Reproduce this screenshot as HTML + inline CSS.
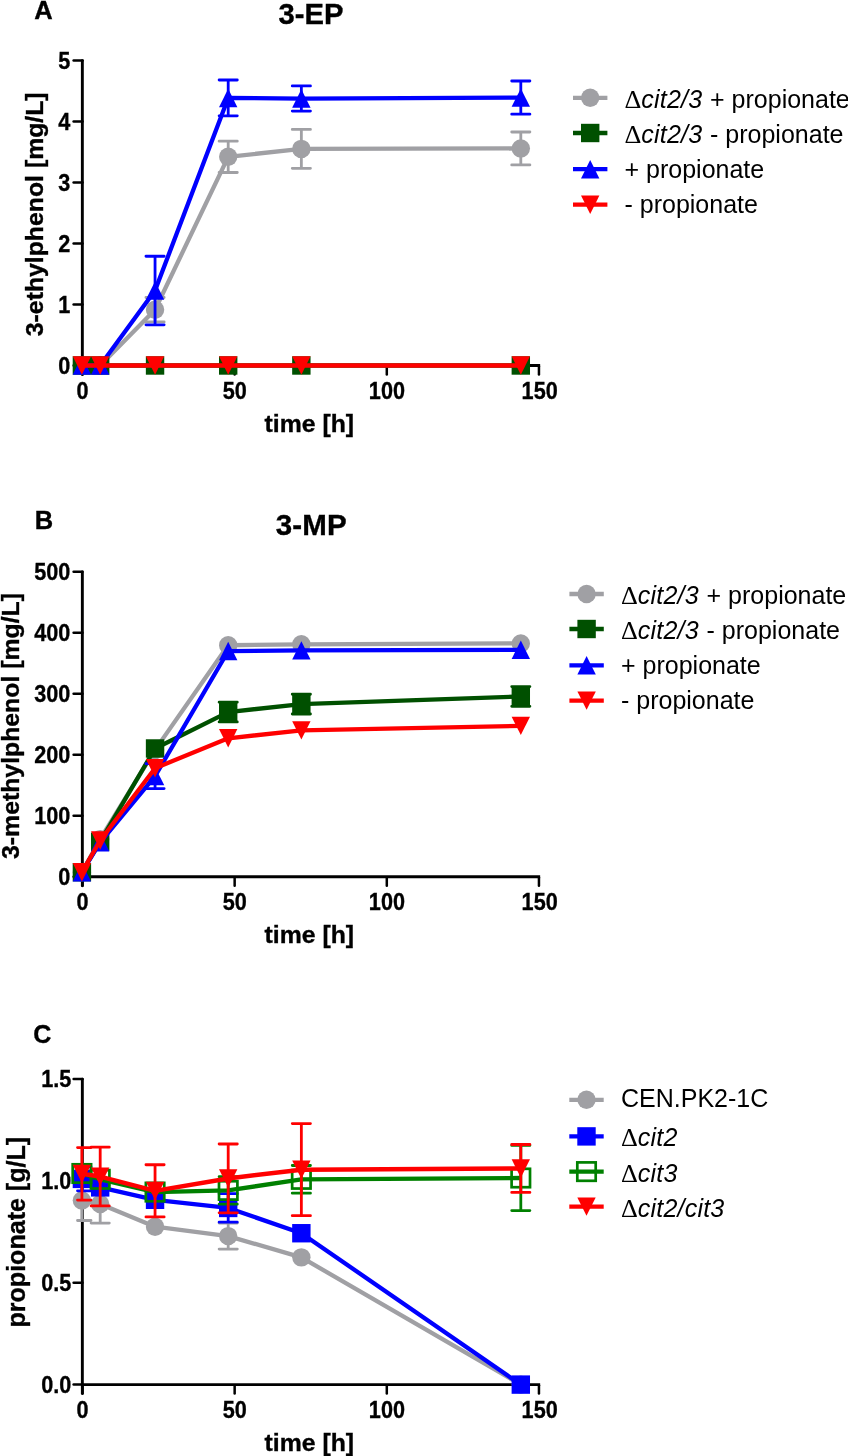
<!DOCTYPE html>
<html lang="en"><head><meta charset="utf-8"><title>Figure</title>
<style>html,body{margin:0;padding:0;background:#fff}svg{display:block;will-change:transform}</style></head><body>
<svg width="848" height="1456" viewBox="0 0 848 1456">
<rect width="848" height="1456" fill="#fff"/>
<g id="panelA">
<text x="34.3" y="18.7" font-family="Liberation Sans, Arial, sans-serif" font-weight="bold" stroke="#000" stroke-width="0.35" font-size="25.5">A</text>
<text x="311" y="24.3" text-anchor="middle" font-family="Liberation Sans, Arial, sans-serif" font-weight="bold" stroke="#000" stroke-width="0.35" font-size="29.2">3-EP</text>
<path d="M82.35,60.60V374.50" stroke="#000" stroke-width="2.9" stroke-linecap="round" fill="none"/>
<path d="M73.6,365.50H82.5" stroke="#000" stroke-width="2.5" stroke-linecap="round"/>
<text transform="translate(70.4,373.70) scale(0.89,1)" text-anchor="end" font-family="Liberation Sans, Arial, sans-serif" font-weight="bold" stroke="#000" stroke-width="0.35" font-size="24.3">0</text>
<path d="M73.6,304.48H82.5" stroke="#000" stroke-width="2.5" stroke-linecap="round"/>
<text transform="translate(70.4,312.68) scale(0.89,1)" text-anchor="end" font-family="Liberation Sans, Arial, sans-serif" font-weight="bold" stroke="#000" stroke-width="0.35" font-size="24.3">1</text>
<path d="M73.6,243.46H82.5" stroke="#000" stroke-width="2.5" stroke-linecap="round"/>
<text transform="translate(70.4,251.66) scale(0.89,1)" text-anchor="end" font-family="Liberation Sans, Arial, sans-serif" font-weight="bold" stroke="#000" stroke-width="0.35" font-size="24.3">2</text>
<path d="M73.6,182.44H82.5" stroke="#000" stroke-width="2.5" stroke-linecap="round"/>
<text transform="translate(70.4,190.64) scale(0.89,1)" text-anchor="end" font-family="Liberation Sans, Arial, sans-serif" font-weight="bold" stroke="#000" stroke-width="0.35" font-size="24.3">3</text>
<path d="M73.6,121.42H82.5" stroke="#000" stroke-width="2.5" stroke-linecap="round"/>
<text transform="translate(70.4,129.62) scale(0.89,1)" text-anchor="end" font-family="Liberation Sans, Arial, sans-serif" font-weight="bold" stroke="#000" stroke-width="0.35" font-size="24.3">4</text>
<path d="M73.6,60.40H82.5" stroke="#000" stroke-width="2.5" stroke-linecap="round"/>
<text transform="translate(70.4,68.60) scale(0.89,1)" text-anchor="end" font-family="Liberation Sans, Arial, sans-serif" font-weight="bold" stroke="#000" stroke-width="0.35" font-size="24.3">5</text>
<path d="M81.3,365.50H540.15" stroke="#000" stroke-width="2.9" fill="none"/>
<path d="M82.50,366.10v8.4" stroke="#000" stroke-width="2.5" stroke-linecap="round"/>
<text transform="translate(82.60,399.00) scale(0.89,1)" text-anchor="middle" font-family="Liberation Sans, Arial, sans-serif" font-weight="bold" stroke="#000" stroke-width="0.35" font-size="24.3">0</text>
<path d="M234.65,366.10v8.4" stroke="#000" stroke-width="2.5" stroke-linecap="round"/>
<text transform="translate(234.75,399.00) scale(0.89,1)" text-anchor="middle" font-family="Liberation Sans, Arial, sans-serif" font-weight="bold" stroke="#000" stroke-width="0.35" font-size="24.3">50</text>
<path d="M386.80,366.10v8.4" stroke="#000" stroke-width="2.5" stroke-linecap="round"/>
<text transform="translate(386.90,399.00) scale(0.89,1)" text-anchor="middle" font-family="Liberation Sans, Arial, sans-serif" font-weight="bold" stroke="#000" stroke-width="0.35" font-size="24.3">100</text>
<path d="M538.95,366.10v8.4" stroke="#000" stroke-width="2.5" stroke-linecap="round"/>
<text transform="translate(539.65,399.00) scale(0.89,1)" text-anchor="middle" font-family="Liberation Sans, Arial, sans-serif" font-weight="bold" stroke="#000" stroke-width="0.35" font-size="24.3">150</text>
<text x="309.3" y="431.50" text-anchor="middle" font-family="Liberation Sans, Arial, sans-serif" font-weight="bold" stroke="#000" stroke-width="0.35" font-size="24.8">time [h]</text>
<text transform="translate(43.3,214.3) rotate(-90)" text-anchor="middle" font-family="Liberation Sans, Arial, sans-serif" font-weight="bold" stroke="#000" stroke-width="0.35" font-size="24.8">3-ethylphenol [mg/L]</text>
<polyline points="81.90,365.50 100.19,365.50 155.05,309.73 228.20,156.81 301.36,148.88 520.81,148.45" fill="none" stroke="#A0A0A4" stroke-width="4.3" stroke-linejoin="round"/>
<path d="M155.05,297.52V321.93M145.95,297.52H164.15M145.95,321.93H164.15" stroke="#A0A0A4" stroke-width="2.8" stroke-linecap="round" fill="none"/>
<path d="M228.20,141.13V172.49M219.10,141.13H237.30M219.10,172.49H237.30" stroke="#A0A0A4" stroke-width="2.8" stroke-linecap="round" fill="none"/>
<path d="M301.36,129.41V168.34M292.26,129.41H310.46M292.26,168.34H310.46" stroke="#A0A0A4" stroke-width="2.8" stroke-linecap="round" fill="none"/>
<path d="M520.81,131.98V164.93M511.71,131.98H529.91M511.71,164.93H529.91" stroke="#A0A0A4" stroke-width="2.8" stroke-linecap="round" fill="none"/>
<circle cx="81.90" cy="365.50" r="9.2" fill="#A0A0A4"/>
<circle cx="100.19" cy="365.50" r="9.2" fill="#A0A0A4"/>
<circle cx="155.05" cy="309.73" r="9.2" fill="#A0A0A4"/>
<circle cx="228.20" cy="156.81" r="9.2" fill="#A0A0A4"/>
<circle cx="301.36" cy="148.88" r="9.2" fill="#A0A0A4"/>
<circle cx="520.81" cy="148.45" r="9.2" fill="#A0A0A4"/>
<polyline points="81.90,365.50 100.19,365.50 155.05,365.50 228.20,365.50 301.36,365.50 520.81,365.50" fill="none" stroke="#005000" stroke-width="4.3" stroke-linejoin="round"/>
<rect x="72.70" y="356.30" width="18.4" height="18.4" fill="#005000"/>
<rect x="90.99" y="356.30" width="18.4" height="18.4" fill="#005000"/>
<rect x="145.85" y="356.30" width="18.4" height="18.4" fill="#005000"/>
<rect x="219.00" y="356.30" width="18.4" height="18.4" fill="#005000"/>
<rect x="292.16" y="356.30" width="18.4" height="18.4" fill="#005000"/>
<rect x="511.61" y="356.30" width="18.4" height="18.4" fill="#005000"/>
<polyline points="81.90,365.50 100.19,365.50 155.05,290.57 228.20,97.93 301.36,98.54 520.81,97.62" fill="none" stroke="#0000FF" stroke-width="4.3" stroke-linejoin="round"/>
<path d="M155.05,256.27V324.86M145.95,256.27H164.15M145.95,324.86H164.15" stroke="#0000FF" stroke-width="2.8" stroke-linecap="round" fill="none"/>
<path d="M228.20,79.99V115.87M219.10,79.99H237.30M219.10,115.87H237.30" stroke="#0000FF" stroke-width="2.8" stroke-linecap="round" fill="none"/>
<path d="M301.36,85.97V111.11M292.26,85.97H310.46M292.26,111.11H310.46" stroke="#0000FF" stroke-width="2.8" stroke-linecap="round" fill="none"/>
<path d="M520.81,81.02V114.22M511.71,81.02H529.91M511.71,114.22H529.91" stroke="#0000FF" stroke-width="2.8" stroke-linecap="round" fill="none"/>
<polygon points="81.90,356.30 91.10,374.70 72.70,374.70" fill="#0000FF"/>
<polygon points="100.19,356.30 109.39,374.70 90.99,374.70" fill="#0000FF"/>
<polygon points="155.05,281.37 164.25,299.77 145.85,299.77" fill="#0000FF"/>
<polygon points="228.20,88.73 237.40,107.13 219.00,107.13" fill="#0000FF"/>
<polygon points="301.36,89.34 310.56,107.74 292.16,107.74" fill="#0000FF"/>
<polygon points="520.81,88.42 530.01,106.82 511.61,106.82" fill="#0000FF"/>
<polyline points="81.90,365.50 100.19,365.50 155.05,365.50 228.20,365.50 301.36,365.50 520.81,365.50" fill="none" stroke="#FF0000" stroke-width="4.3" stroke-linejoin="round"/>
<polygon points="72.70,356.30 91.10,356.30 81.90,374.70" fill="#FF0000"/>
<polygon points="90.99,356.30 109.39,356.30 100.19,374.70" fill="#FF0000"/>
<polygon points="145.85,356.30 164.25,356.30 155.05,374.70" fill="#FF0000"/>
<polygon points="219.00,356.30 237.40,356.30 228.20,374.70" fill="#FF0000"/>
<polygon points="292.16,356.30 310.56,356.30 301.36,374.70" fill="#FF0000"/>
<polygon points="511.61,356.30 530.01,356.30 520.81,374.70" fill="#FF0000"/>
<path d="M573.00,97.80h34.4" stroke="#A0A0A4" stroke-width="4.3"/>
<circle cx="590.20" cy="97.80" r="9.2" fill="#A0A0A4"/>
<text x="624.50" y="107.60" font-family="Liberation Sans, Arial, sans-serif" font-size="25"><tspan font-family="Liberation Serif, serif" font-size="26.2">Δ</tspan><tspan font-style="italic" letter-spacing="0.2">cit2/3</tspan><tspan dx="0.8"> + propionate</tspan></text>
<path d="M573.00,133.00h34.4" stroke="#005000" stroke-width="4.3"/>
<rect x="581.00" y="123.80" width="18.4" height="18.4" fill="#005000"/>
<text x="624.50" y="142.80" font-family="Liberation Sans, Arial, sans-serif" font-size="25"><tspan font-family="Liberation Serif, serif" font-size="26.2">Δ</tspan><tspan font-style="italic" letter-spacing="0.2">cit2/3</tspan><tspan dx="0.8"> - propionate</tspan></text>
<path d="M573.00,169.20h34.4" stroke="#0000FF" stroke-width="4.3"/>
<polygon points="590.20,160.00 599.40,178.40 581.00,178.40" fill="#0000FF"/>
<text x="624.50" y="178.20" font-family="Liberation Sans, Arial, sans-serif" font-size="25">+ propionate</text>
<path d="M573.00,204.70h34.4" stroke="#FF0000" stroke-width="4.3"/>
<polygon points="581.00,195.50 599.40,195.50 590.20,213.90" fill="#FF0000"/>
<text x="624.50" y="213.40" font-family="Liberation Sans, Arial, sans-serif" font-size="25">- propionate</text>
</g>
<g id="panelB">
<text x="34.7" y="529.4" font-family="Liberation Sans, Arial, sans-serif" font-weight="bold" stroke="#000" stroke-width="0.35" font-size="25.5">B</text>
<text x="311.3" y="535.2" text-anchor="middle" font-family="Liberation Sans, Arial, sans-serif" font-weight="bold" stroke="#000" stroke-width="0.35" font-size="29.5" letter-spacing="0.15">3-MP</text>
<path d="M82.35,571.90V885.80" stroke="#000" stroke-width="2.9" stroke-linecap="round" fill="none"/>
<path d="M73.6,876.80H82.5" stroke="#000" stroke-width="2.5" stroke-linecap="round"/>
<text transform="translate(70.4,885.00) scale(0.89,1)" text-anchor="end" font-family="Liberation Sans, Arial, sans-serif" font-weight="bold" stroke="#000" stroke-width="0.35" font-size="24.3">0</text>
<path d="M73.6,815.78H82.5" stroke="#000" stroke-width="2.5" stroke-linecap="round"/>
<text transform="translate(70.4,823.98) scale(0.89,1)" text-anchor="end" font-family="Liberation Sans, Arial, sans-serif" font-weight="bold" stroke="#000" stroke-width="0.35" font-size="24.3">100</text>
<path d="M73.6,754.76H82.5" stroke="#000" stroke-width="2.5" stroke-linecap="round"/>
<text transform="translate(70.4,762.96) scale(0.89,1)" text-anchor="end" font-family="Liberation Sans, Arial, sans-serif" font-weight="bold" stroke="#000" stroke-width="0.35" font-size="24.3">200</text>
<path d="M73.6,693.74H82.5" stroke="#000" stroke-width="2.5" stroke-linecap="round"/>
<text transform="translate(70.4,701.94) scale(0.89,1)" text-anchor="end" font-family="Liberation Sans, Arial, sans-serif" font-weight="bold" stroke="#000" stroke-width="0.35" font-size="24.3">300</text>
<path d="M73.6,632.72H82.5" stroke="#000" stroke-width="2.5" stroke-linecap="round"/>
<text transform="translate(70.4,640.92) scale(0.89,1)" text-anchor="end" font-family="Liberation Sans, Arial, sans-serif" font-weight="bold" stroke="#000" stroke-width="0.35" font-size="24.3">400</text>
<path d="M73.6,571.70H82.5" stroke="#000" stroke-width="2.5" stroke-linecap="round"/>
<text transform="translate(70.4,579.90) scale(0.89,1)" text-anchor="end" font-family="Liberation Sans, Arial, sans-serif" font-weight="bold" stroke="#000" stroke-width="0.35" font-size="24.3">500</text>
<path d="M81.3,876.80H540.15" stroke="#000" stroke-width="2.9" fill="none"/>
<path d="M82.50,877.40v8.4" stroke="#000" stroke-width="2.5" stroke-linecap="round"/>
<text transform="translate(82.60,910.30) scale(0.89,1)" text-anchor="middle" font-family="Liberation Sans, Arial, sans-serif" font-weight="bold" stroke="#000" stroke-width="0.35" font-size="24.3">0</text>
<path d="M234.65,877.40v8.4" stroke="#000" stroke-width="2.5" stroke-linecap="round"/>
<text transform="translate(234.75,910.30) scale(0.89,1)" text-anchor="middle" font-family="Liberation Sans, Arial, sans-serif" font-weight="bold" stroke="#000" stroke-width="0.35" font-size="24.3">50</text>
<path d="M386.80,877.40v8.4" stroke="#000" stroke-width="2.5" stroke-linecap="round"/>
<text transform="translate(386.90,910.30) scale(0.89,1)" text-anchor="middle" font-family="Liberation Sans, Arial, sans-serif" font-weight="bold" stroke="#000" stroke-width="0.35" font-size="24.3">100</text>
<path d="M538.95,877.40v8.4" stroke="#000" stroke-width="2.5" stroke-linecap="round"/>
<text transform="translate(539.65,910.30) scale(0.89,1)" text-anchor="middle" font-family="Liberation Sans, Arial, sans-serif" font-weight="bold" stroke="#000" stroke-width="0.35" font-size="24.3">150</text>
<text x="309.3" y="942.80" text-anchor="middle" font-family="Liberation Sans, Arial, sans-serif" font-weight="bold" stroke="#000" stroke-width="0.35" font-size="24.8">time [h]</text>
<text transform="translate(19.3,726) rotate(-90)" text-anchor="middle" font-family="Liberation Sans, Arial, sans-serif" font-weight="bold" stroke="#000" stroke-width="0.35" font-size="24.8">3-methylphenol [mg/L]</text>
<polyline points="81.90,872.22 100.19,839.09 155.05,749.88 228.20,645.23 301.36,644.31 520.81,643.40" fill="none" stroke="#A0A0A4" stroke-width="4.3" stroke-linejoin="round"/>
<circle cx="81.90" cy="872.22" r="9.2" fill="#A0A0A4"/>
<circle cx="100.19" cy="839.09" r="9.2" fill="#A0A0A4"/>
<circle cx="155.05" cy="749.88" r="9.2" fill="#A0A0A4"/>
<circle cx="228.20" cy="645.23" r="9.2" fill="#A0A0A4"/>
<circle cx="301.36" cy="644.31" r="9.2" fill="#A0A0A4"/>
<circle cx="520.81" cy="643.40" r="9.2" fill="#A0A0A4"/>
<polyline points="81.90,872.22 100.19,841.71 155.05,748.47 228.20,712.05 301.36,704.11 520.81,696.49" fill="none" stroke="#005000" stroke-width="4.3" stroke-linejoin="round"/>
<path d="M228.20,702.16V721.93M219.10,702.16H237.30M219.10,721.93H237.30" stroke="#005000" stroke-width="2.8" stroke-linecap="round" fill="none"/>
<path d="M301.36,694.23V714.00M292.26,694.23H310.46M292.26,714.00H310.46" stroke="#005000" stroke-width="2.8" stroke-linecap="round" fill="none"/>
<path d="M520.81,686.60V706.37M511.71,686.60H529.91M511.71,706.37H529.91" stroke="#005000" stroke-width="2.8" stroke-linecap="round" fill="none"/>
<rect x="72.70" y="863.02" width="18.4" height="18.4" fill="#005000"/>
<rect x="90.99" y="832.51" width="18.4" height="18.4" fill="#005000"/>
<rect x="145.85" y="739.27" width="18.4" height="18.4" fill="#005000"/>
<rect x="219.00" y="702.85" width="18.4" height="18.4" fill="#005000"/>
<rect x="292.16" y="694.91" width="18.4" height="18.4" fill="#005000"/>
<rect x="511.61" y="687.29" width="18.4" height="18.4" fill="#005000"/>
<polyline points="81.90,872.22 100.19,842.38 155.05,776.12 228.20,651.03 301.36,650.42 520.81,649.81" fill="none" stroke="#0000FF" stroke-width="4.3" stroke-linejoin="round"/>
<path d="M155.05,763.67V788.57M145.95,763.67H164.15M145.95,788.57H164.15" stroke="#0000FF" stroke-width="2.8" stroke-linecap="round" fill="none"/>
<polygon points="81.90,863.02 91.10,881.42 72.70,881.42" fill="#0000FF"/>
<polygon points="100.19,833.18 109.39,851.58 90.99,851.58" fill="#0000FF"/>
<polygon points="155.05,766.92 164.25,785.32 145.85,785.32" fill="#0000FF"/>
<polygon points="228.20,641.83 237.40,660.23 219.00,660.23" fill="#0000FF"/>
<polygon points="301.36,641.22 310.56,659.62 292.16,659.62" fill="#0000FF"/>
<polygon points="520.81,640.61 530.01,659.01 511.61,659.01" fill="#0000FF"/>
<polyline points="81.90,872.22 100.19,840.49 155.05,768.18 228.20,738.28 301.36,730.35 520.81,725.90" fill="none" stroke="#FF0000" stroke-width="4.3" stroke-linejoin="round"/>
<polygon points="72.70,863.02 91.10,863.02 81.90,881.42" fill="#FF0000"/>
<polygon points="90.99,831.29 109.39,831.29 100.19,849.69" fill="#FF0000"/>
<polygon points="145.85,758.98 164.25,758.98 155.05,777.38" fill="#FF0000"/>
<polygon points="219.00,729.08 237.40,729.08 228.20,747.48" fill="#FF0000"/>
<polygon points="292.16,721.15 310.56,721.15 301.36,739.55" fill="#FF0000"/>
<polygon points="511.61,716.70 530.01,716.70 520.81,735.10" fill="#FF0000"/>
<path d="M569.40,594.00h34.4" stroke="#A0A0A4" stroke-width="4.3"/>
<circle cx="586.60" cy="594.00" r="9.2" fill="#A0A0A4"/>
<text x="621.00" y="603.80" font-family="Liberation Sans, Arial, sans-serif" font-size="25"><tspan font-family="Liberation Serif, serif" font-size="26.2">Δ</tspan><tspan font-style="italic" letter-spacing="0.2">cit2/3</tspan><tspan dx="0.8"> + propionate</tspan></text>
<path d="M569.40,629.00h34.4" stroke="#005000" stroke-width="4.3"/>
<rect x="577.40" y="619.80" width="18.4" height="18.4" fill="#005000"/>
<text x="621.00" y="638.80" font-family="Liberation Sans, Arial, sans-serif" font-size="25"><tspan font-family="Liberation Serif, serif" font-size="26.2">Δ</tspan><tspan font-style="italic" letter-spacing="0.2">cit2/3</tspan><tspan dx="0.8"> - propionate</tspan></text>
<path d="M569.40,665.30h34.4" stroke="#0000FF" stroke-width="4.3"/>
<polygon points="586.60,656.10 595.80,674.50 577.40,674.50" fill="#0000FF"/>
<text x="621.00" y="674.30" font-family="Liberation Sans, Arial, sans-serif" font-size="25">+ propionate</text>
<path d="M569.40,700.60h34.4" stroke="#FF0000" stroke-width="4.3"/>
<polygon points="577.40,691.40 595.80,691.40 586.60,709.80" fill="#FF0000"/>
<text x="621.00" y="709.40" font-family="Liberation Sans, Arial, sans-serif" font-size="25">- propionate</text>
</g>
<g id="panelC">
<text x="33.2" y="1043" font-family="Liberation Sans, Arial, sans-serif" font-weight="bold" stroke="#000" stroke-width="0.35" font-size="25">C</text>
<path d="M82.35,1079.20V1393.60" stroke="#000" stroke-width="2.9" stroke-linecap="round" fill="none"/>
<path d="M73.6,1384.60H82.5" stroke="#000" stroke-width="2.5" stroke-linecap="round"/>
<text transform="translate(71.4,1392.80) scale(0.89,1)" text-anchor="end" font-family="Liberation Sans, Arial, sans-serif" font-weight="bold" stroke="#000" stroke-width="0.35" font-size="24.3">0.0</text>
<path d="M73.6,1282.73H82.5" stroke="#000" stroke-width="2.5" stroke-linecap="round"/>
<text transform="translate(71.4,1290.93) scale(0.89,1)" text-anchor="end" font-family="Liberation Sans, Arial, sans-serif" font-weight="bold" stroke="#000" stroke-width="0.35" font-size="24.3">0.5</text>
<path d="M73.6,1180.87H82.5" stroke="#000" stroke-width="2.5" stroke-linecap="round"/>
<text transform="translate(71.4,1189.07) scale(0.89,1)" text-anchor="end" font-family="Liberation Sans, Arial, sans-serif" font-weight="bold" stroke="#000" stroke-width="0.35" font-size="24.3">1.0</text>
<path d="M73.6,1079.00H82.5" stroke="#000" stroke-width="2.5" stroke-linecap="round"/>
<text transform="translate(71.4,1087.20) scale(0.89,1)" text-anchor="end" font-family="Liberation Sans, Arial, sans-serif" font-weight="bold" stroke="#000" stroke-width="0.35" font-size="24.3">1.5</text>
<path d="M81.3,1384.60H540.15" stroke="#000" stroke-width="2.9" fill="none"/>
<path d="M82.50,1385.20v8.4" stroke="#000" stroke-width="2.5" stroke-linecap="round"/>
<text transform="translate(82.60,1418.10) scale(0.89,1)" text-anchor="middle" font-family="Liberation Sans, Arial, sans-serif" font-weight="bold" stroke="#000" stroke-width="0.35" font-size="24.3">0</text>
<path d="M234.65,1385.20v8.4" stroke="#000" stroke-width="2.5" stroke-linecap="round"/>
<text transform="translate(234.75,1418.10) scale(0.89,1)" text-anchor="middle" font-family="Liberation Sans, Arial, sans-serif" font-weight="bold" stroke="#000" stroke-width="0.35" font-size="24.3">50</text>
<path d="M386.80,1385.20v8.4" stroke="#000" stroke-width="2.5" stroke-linecap="round"/>
<text transform="translate(386.90,1418.10) scale(0.89,1)" text-anchor="middle" font-family="Liberation Sans, Arial, sans-serif" font-weight="bold" stroke="#000" stroke-width="0.35" font-size="24.3">100</text>
<path d="M538.95,1385.20v8.4" stroke="#000" stroke-width="2.5" stroke-linecap="round"/>
<text transform="translate(539.65,1418.10) scale(0.89,1)" text-anchor="middle" font-family="Liberation Sans, Arial, sans-serif" font-weight="bold" stroke="#000" stroke-width="0.35" font-size="24.3">150</text>
<text x="309.3" y="1450.60" text-anchor="middle" font-family="Liberation Sans, Arial, sans-serif" font-weight="bold" stroke="#000" stroke-width="0.35" font-size="24.8">time [h]</text>
<text transform="translate(24.6,1232.2) rotate(-90)" text-anchor="middle" font-family="Liberation Sans, Arial, sans-serif" font-weight="bold" stroke="#000" stroke-width="0.35" font-size="25.05">propionate [g/L]</text>
<polyline points="81.90,1200.43 100.19,1203.97 155.05,1226.71 228.20,1236.08 301.36,1257.37 520.81,1384.60" fill="none" stroke="#A0A0A4" stroke-width="4.3" stroke-linejoin="round"/>
<path d="M81.90,1180.34V1220.51M77.50,1180.34H91.00M77.50,1220.51H91.00" stroke="#A0A0A4" stroke-width="2.8" stroke-linecap="round" fill="none"/>
<path d="M100.19,1184.88V1223.06M91.09,1184.88H109.29M91.09,1223.06H109.29" stroke="#A0A0A4" stroke-width="2.8" stroke-linecap="round" fill="none"/>
<path d="M228.20,1223.10V1249.06M219.10,1223.10H237.30M219.10,1249.06H237.30" stroke="#A0A0A4" stroke-width="2.8" stroke-linecap="round" fill="none"/>
<circle cx="81.90" cy="1200.43" r="9.2" fill="#A0A0A4"/>
<circle cx="100.19" cy="1203.97" r="9.2" fill="#A0A0A4"/>
<circle cx="155.05" cy="1226.71" r="9.2" fill="#A0A0A4"/>
<circle cx="228.20" cy="1236.08" r="9.2" fill="#A0A0A4"/>
<circle cx="301.36" cy="1257.37" r="9.2" fill="#A0A0A4"/>
<circle cx="520.81" cy="1384.60" r="9.2" fill="#A0A0A4"/>
<polyline points="81.90,1178.89 100.19,1187.39 155.05,1199.81 228.20,1207.96 301.36,1233.23 520.81,1384.60" fill="none" stroke="#0000FF" stroke-width="4.3" stroke-linejoin="round"/>
<path d="M81.90,1166.91V1190.87M77.50,1166.91H91.00M77.50,1190.87H91.00" stroke="#0000FF" stroke-width="2.8" stroke-linecap="round" fill="none"/>
<path d="M228.20,1193.70V1222.22M219.10,1193.70H237.30M219.10,1222.22H237.30" stroke="#0000FF" stroke-width="2.8" stroke-linecap="round" fill="none"/>
<rect x="72.70" y="1169.69" width="18.4" height="18.4" fill="#0000FF"/>
<rect x="90.99" y="1178.19" width="18.4" height="18.4" fill="#0000FF"/>
<rect x="145.85" y="1190.61" width="18.4" height="18.4" fill="#0000FF"/>
<rect x="219.00" y="1198.76" width="18.4" height="18.4" fill="#0000FF"/>
<rect x="292.16" y="1224.03" width="18.4" height="18.4" fill="#0000FF"/>
<rect x="511.61" y="1375.40" width="18.4" height="18.4" fill="#0000FF"/>
<polyline points="81.90,1173.49 100.19,1179.30 155.05,1192.07 228.20,1190.44 301.36,1179.34 520.81,1178.01" fill="none" stroke="#008000" stroke-width="4.3" stroke-linejoin="round"/>
<path d="M228.20,1176.69V1204.19M219.10,1176.69H237.30M219.10,1204.19H237.30" stroke="#008000" stroke-width="2.8" stroke-linecap="round" fill="none"/>
<path d="M301.36,1165.48V1193.19M292.26,1165.48H310.46M292.26,1193.19H310.46" stroke="#008000" stroke-width="2.8" stroke-linecap="round" fill="none"/>
<path d="M520.81,1145.42V1210.61M511.71,1145.42H529.91M511.71,1210.61H529.91" stroke="#008000" stroke-width="2.8" stroke-linecap="round" fill="none"/>
<rect x="72.70" y="1164.29" width="18.4" height="18.4" fill="none" stroke="#008000" stroke-width="2.7"/>
<rect x="90.99" y="1170.10" width="18.4" height="18.4" fill="none" stroke="#008000" stroke-width="2.7"/>
<rect x="145.85" y="1182.87" width="18.4" height="18.4" fill="none" stroke="#008000" stroke-width="2.7"/>
<rect x="219.00" y="1181.24" width="18.4" height="18.4" fill="none" stroke="#008000" stroke-width="2.7"/>
<rect x="292.16" y="1170.14" width="18.4" height="18.4" fill="none" stroke="#008000" stroke-width="2.7"/>
<rect x="511.61" y="1168.81" width="18.4" height="18.4" fill="none" stroke="#008000" stroke-width="2.7"/>
<polyline points="81.90,1173.84 100.19,1176.59 155.05,1190.85 228.20,1178.42 301.36,1169.66 520.81,1168.44" fill="none" stroke="#FF0000" stroke-width="4.5" stroke-linejoin="round"/>
<path d="M81.90,1147.62V1200.06M77.50,1147.62H91.00M77.50,1200.06H91.00" stroke="#FF0000" stroke-width="2.8" stroke-linecap="round" fill="none"/>
<path d="M100.19,1147.21V1205.97M91.09,1147.21H109.29M91.09,1205.97H109.29" stroke="#FF0000" stroke-width="2.8" stroke-linecap="round" fill="none"/>
<path d="M155.05,1164.77V1216.93M145.95,1164.77H164.15M145.95,1216.93H164.15" stroke="#FF0000" stroke-width="2.8" stroke-linecap="round" fill="none"/>
<path d="M228.20,1143.99V1212.85M219.10,1143.99H237.30M219.10,1212.85H237.30" stroke="#FF0000" stroke-width="2.8" stroke-linecap="round" fill="none"/>
<path d="M301.36,1123.62V1215.71M292.26,1123.62H310.46M292.26,1215.71H310.46" stroke="#FF0000" stroke-width="2.8" stroke-linecap="round" fill="none"/>
<path d="M520.81,1144.50V1192.38M511.71,1144.50H529.91M511.71,1192.38H529.91" stroke="#FF0000" stroke-width="2.8" stroke-linecap="round" fill="none"/>
<polygon points="72.70,1164.64 91.10,1164.64 81.90,1183.04" fill="#FF0000"/>
<polygon points="90.99,1167.39 109.39,1167.39 100.19,1185.79" fill="#FF0000"/>
<polygon points="145.85,1181.65 164.25,1181.65 155.05,1200.05" fill="#FF0000"/>
<polygon points="219.00,1169.22 237.40,1169.22 228.20,1187.62" fill="#FF0000"/>
<polygon points="292.16,1160.46 310.56,1160.46 301.36,1178.86" fill="#FF0000"/>
<polygon points="511.61,1159.24 530.01,1159.24 520.81,1177.64" fill="#FF0000"/>
<path d="M569.30,1099.80h34.4" stroke="#A0A0A4" stroke-width="4.3"/>
<circle cx="586.50" cy="1099.80" r="9.2" fill="#A0A0A4"/>
<text x="621.00" y="1107.20" font-family="Liberation Sans, Arial, sans-serif" font-size="25">CEN.PK2-1C</text>
<path d="M569.30,1136.40h34.4" stroke="#0000FF" stroke-width="4.3"/>
<rect x="577.30" y="1127.20" width="18.4" height="18.4" fill="#0000FF"/>
<text x="621.00" y="1146.20" font-family="Liberation Sans, Arial, sans-serif" font-size="25"><tspan font-family="Liberation Serif, serif" font-size="26.2">Δ</tspan><tspan font-style="italic" letter-spacing="0.2">cit2</tspan></text>
<path d="M569.30,1171.60h34.4" stroke="#008000" stroke-width="4.3"/>
<rect x="577.30" y="1162.40" width="18.4" height="18.4" fill="none" stroke="#008000" stroke-width="2.7"/>
<text x="621.00" y="1181.80" font-family="Liberation Sans, Arial, sans-serif" font-size="25"><tspan font-family="Liberation Serif, serif" font-size="26.2">Δ</tspan><tspan font-style="italic" letter-spacing="0.2">cit3</tspan></text>
<path d="M569.30,1206.60h34.4" stroke="#FF0000" stroke-width="4.3"/>
<polygon points="577.30,1197.40 595.70,1197.40 586.50,1215.80" fill="#FF0000"/>
<text x="621.00" y="1216.80" font-family="Liberation Sans, Arial, sans-serif" font-size="25"><tspan font-family="Liberation Serif, serif" font-size="26.2">Δ</tspan><tspan font-style="italic" letter-spacing="0.2">cit2/cit3</tspan></text>
</g>
</svg></body></html>
